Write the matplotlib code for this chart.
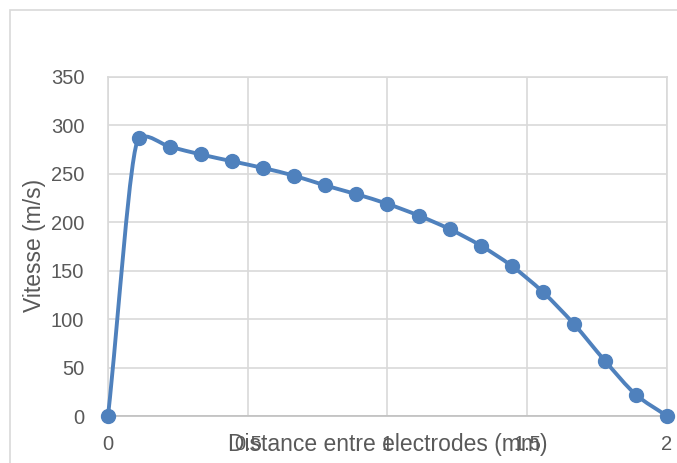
import numpy as np
import matplotlib
matplotlib.use("Agg")
import matplotlib.pyplot as plt
from matplotlib.path import Path
from matplotlib.patches import PathPatch, Rectangle

# data
distance = [0, 0.111, 0.222, 0.333, 0.444, 0.556, 0.667, 0.778, 0.889, 1.0,
            1.111, 1.222, 1.333, 1.444, 1.556, 1.667, 1.778, 1.889, 2.0]
vitesse = [0, 287, 278, 270, 263, 256, 248, 238, 229, 219,
           207, 193, 176, 155, 128, 95, 57, 22, 0]

blue = "#4f81bd"
txt = "#595959"

plt.rcParams['font.family'] = ['Liberation Sans', 'DejaVu Sans']
plt.rcParams['font.size'] = 14

fig = plt.figure(figsize=(6.77, 4.63), dpi=100)
ax = fig.add_axes([0.1595, 0.1015, 0.8257, 0.7322])

# outer chart border (cut off on the right/bottom like the screenshot)
fig.patches.append(Rectangle((10 / 677, -0.05), 1.2, 0.978 + 0.05, transform=fig.transFigure,
                             fill=False, edgecolor="#d9d9d9", lw=1.2))

ax.set_xlim(0, 2)
ax.set_ylim(0, 350)

# smoothed line like Excel, built in pixel space
pts = ax.transData.transform(np.column_stack([distance, vitesse]))
n = len(pts)
segs = [np.linalg.norm(pts[i + 1] - pts[i]) for i in range(n - 1)]
tang = []
for i in range(n):
    if i == 0:
        d = (pts[1] - pts[0]) / segs[0]
        L = segs[0] / 3
    elif i == n - 1:
        d = (pts[-1] - pts[-2]) / segs[-1]
        L = segs[-1] / 3
    else:
        a = (pts[i] - pts[i - 1]) / segs[i - 1]
        b = (pts[i + 1] - pts[i]) / segs[i]
        d = (a + b) / np.linalg.norm(a + b)
        L = min(segs[i - 1], segs[i]) / 3
    tang.append(d * L)
verts = [tuple(pts[0])]
codes = [Path.MOVETO]
for i in range(n - 1):
    verts += [tuple(pts[i] + tang[i]), tuple(pts[i + 1] - tang[i + 1]), tuple(pts[i + 1])]
    codes += [Path.CURVE4] * 3
inv = ax.transData.inverted()
verts = [tuple(inv.transform(v)) for v in verts]
ax.add_patch(PathPatch(Path(verts, codes), fill=False, edgecolor=blue, lw=2.8,
                       capstyle="round", joinstyle="round", clip_on=False, zorder=3))
ax.plot(distance, vitesse, linestyle="none", marker="o", markersize=10,
        color=blue, clip_on=False, zorder=4)

ax.set_xticks([0, 0.5, 1, 1.5, 2])
ax.set_xticklabels(["0", "0.5", "1", "1.5", "2"])
ax.set_yticks(range(0, 351, 50))
ax.grid(True, color="#d9d9d9", lw=1.2)
ax.set_axisbelow(True)
for s in ax.spines.values():
    s.set_color("#d9d9d9")
    s.set_linewidth(1.2)
ax.spines["bottom"].set_color("#bfbfbf")
ax.tick_params(length=0, colors=txt, labelsize=14.5)
ax.tick_params(axis="x", pad=14)
ax.tick_params(axis="y", pad=17)

ax.set_xlabel("Distance entre electrodes (mm)", color=txt, fontsize=16.5)
ax.xaxis.set_label_coords(0.5, -0.0826)
ax.xaxis.label.set_va("center")
ax.set_ylabel("Vitesse (m/s)", color=txt, fontsize=16.5)
ax.yaxis.set_label_coords(-0.1306, 0.504)
ax.yaxis.label.set_va("center")

fig.savefig("out.png", dpi=100)
